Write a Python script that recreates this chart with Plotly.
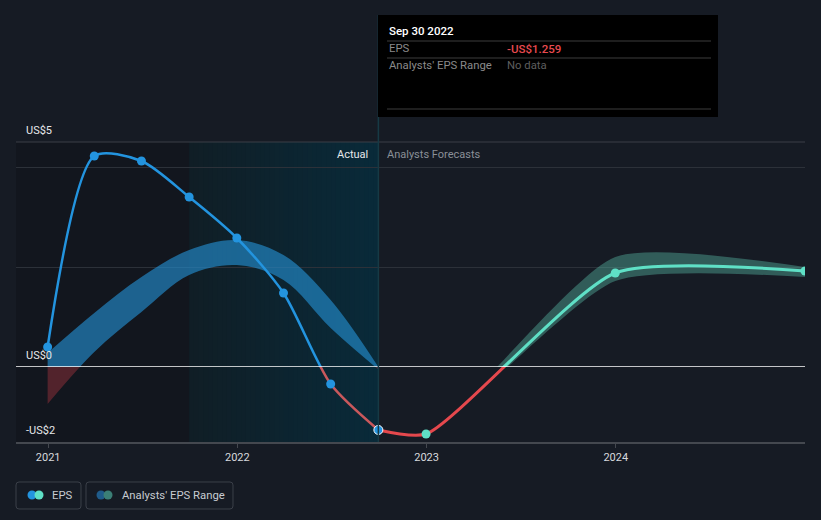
"""
EPS history and analyst forecast chart
"""
import numpy as np
import pandas as pd
import plotly.graph_objects as go

# reported EPS (quarterly, trailing)
actual_dates = ['2020-12-31', '2021-03-31', '2021-06-30', '2021-09-30',
                '2021-12-31', '2022-03-31', '2022-06-30', '2022-09-30']
actual_eps = [0.40, 4.22, 4.12, 3.40, 2.58, 1.48, -0.34, -1.259]

# past analysts' EPS range
past_range_low = [-0.74, 0.30, 1.10, 1.84, 2.04, 1.74, 0.78, -0.05]
past_range_high = [0.28, 1.08, 1.80, 2.34, 2.54, 2.24, 1.34, 0.00]

# forecast EPS
forecast_dates = ['2022-09-30', '2022-12-31', '2023-12-31', '2024-12-31']
forecast_eps = [-1.259, -1.34, 1.88, 1.92]

# forecast analysts' EPS range (starts from the last actual)
fc_range_low = [-1.259, -1.34, 1.72, 1.80]
fc_range_high = [-1.259, -1.34, 2.20, 2.00]

year_ticks = ['2021-01-01', '2022-01-01', '2023-01-01', '2024-01-01']
year_labels = ['2021', '2022', '2023', '2024']
y_labels = ['US$5', 'US$0', '-US$2']
y_label_vals = [4.5, 0, -1.5]

BG = '#161b24'
BLUE = '#2394df'
TEAL = '#5fe0c6'
RED = '#e5484d'
RED_DIM = '#c9585c'
FONT = 'Roboto'
SMOOTH_ACT = 0.75
SMOOTH_FC = 0.6

x_start, x_end = '2020-10-31', '2024-12-31'
highlight_start, highlight_end = '2021-09-30', '2022-09-30'
y_min, y_max = -1.5, 4.5

# plot area in pixels (for legend / tooltip placement)
PL, PR, PT, PB = 16, 805, 142, 442
W, H = 821, 520


def fx(px):
    return (px - PL) / (PR - PL)


def fy(py):
    return (PB - py) / (PB - PT)


def rounded_rect(x0, y0, x1, y1, r=3):
    """rounded rectangle path in paper coords from pixel corners"""
    pts = [
        ('M', x0 + r, y0), ('L', x1 - r, y0), ('Q', x1, y0, x1, y0 + r),
        ('L', x1, y1 - r), ('Q', x1, y1, x1 - r, y1), ('L', x0 + r, y1),
        ('Q', x0, y1, x0, y1 - r), ('L', x0, y0 + r), ('Q', x0, y0, x0 + r, y0),
    ]
    path = ''
    for p in pts:
        coords = p[1:]
        path += p[0] + ' ' + ' '.join(
            f'{fx(coords[i]):.5f},{fy(coords[i + 1]):.5f}' for i in range(0, len(coords), 2)) + ' '
    return path + 'Z'


def band(x, low, high, fillcolor, yaxis, smoothing):
    fig.add_trace(go.Scatter(x=x, y=low, mode='lines', line=dict(width=0, shape='spline', smoothing=smoothing),
                             yaxis=yaxis, hoverinfo='skip', showlegend=False))
    fig.add_trace(go.Scatter(x=x, y=high, mode='lines', line=dict(width=0, shape='spline', smoothing=smoothing),
                             fill='tonexty', fillcolor=fillcolor, yaxis=yaxis,
                             hoverinfo='skip', showlegend=False))


def line(x, y, color, width, yaxis, smoothing):
    fig.add_trace(go.Scatter(x=x, y=y, mode='lines',
                             line=dict(color=color, width=width, shape='spline', smoothing=smoothing),
                             yaxis=yaxis, hoverinfo='skip', showlegend=False))


fig = go.Figure()

# above zero (yaxis2) -> blue / teal
band(actual_dates, past_range_low, past_range_high, 'rgba(35,140,205,0.65)', 'y2', 1.0)
band(forecast_dates, fc_range_low, fc_range_high, 'rgba(90,190,170,0.4)', 'y2', SMOOTH_FC)
line(actual_dates, actual_eps, BLUE, 2.5, 'y2', SMOOTH_ACT)
line(forecast_dates, forecast_eps, TEAL, 3, 'y2', SMOOTH_FC)

# below zero (yaxis) -> red
band(actual_dates, past_range_low, past_range_high, 'rgba(180,55,65,0.4)', 'y', 1.0)
line(actual_dates, actual_eps, RED_DIM, 2.5, 'y', SMOOTH_ACT)
line(forecast_dates, forecast_eps, RED, 3, 'y', SMOOTH_FC)

# markers
act = pd.DataFrame({'x': actual_dates, 'y': actual_eps, 'edge': 'rgba(0,0,0,0)'})
act.loc[act.index[-1], 'edge'] = 'white'
fc = pd.DataFrame({'x': forecast_dates[1:], 'y': forecast_eps[1:], 'edge': 'rgba(0,0,0,0)'})

for df, color in [(act, BLUE), (fc, TEAL)]:
    pos = df[df['y'] >= 0]
    neg = df[df['y'] < 0]
    fig.add_trace(go.Scatter(x=pos['x'], y=pos['y'], mode='markers', yaxis='y2',
                             marker=dict(color=color, size=9, line=dict(color=pos['edge'], width=1)),
                             showlegend=False))
    fig.add_trace(go.Scatter(x=neg['x'], y=neg['y'], mode='markers', yaxis='y', cliponaxis=False,
                             marker=dict(color=color, size=9, line=dict(color=neg['edge'], width=1)),
                             showlegend=False))

shapes = []
# darker past region
shapes.append(dict(type='rect', xref='x', yref='paper', x0=x_start, x1=highlight_start, y0=0, y1=1,
                   fillcolor='#12161e', line_width=0, layer='below'))
# highlight gradient (last year of actuals); each step overlaps the next to hide seams
steps = 40
edges = pd.date_range(highlight_start, highlight_end, periods=steps + 1)
c0, c1 = np.array([16, 30, 38]), np.array([9, 42, 57])
for i in range(steps):
    c = (c0 + (c1 - c0) * i / (steps - 1)).round().astype(int)
    shapes.append(dict(type='rect', xref='x', yref='paper', x0=edges[i], x1=edges[min(i + 2, steps)],
                       y0=0, y1=1, fillcolor=f'rgb({c[0]},{c[1]},{c[2]})', line_width=0, layer='below'))
# top line and zero line
shapes.append(dict(type='line', xref='paper', yref='paper', x0=0, x1=1, y0=1, y1=1,
                   line=dict(color='#3a3f47', width=1)))
shapes.append(dict(type='line', xref='paper', yref='y2', x0=0, x1=1, y0=0, y1=0,
                   line=dict(color='white', width=1.6), layer='above'))
# vertical marker at the last actual
shapes.append(dict(type='line', xref='x', yref='paper', x0=highlight_end, x1=highlight_end,
                   y0=0, y1=fy(15), line=dict(color='#163a45', width=1.5)))
# tooltip box
shapes.append(dict(type='rect', xref='paper', yref='paper', x0=fx(378), x1=fx(718), y0=fy(117), y1=fy(15),
                   fillcolor='black', line_width=0))
for py in [41, 58, 109]:
    shapes.append(dict(type='line', xref='paper', yref='paper', x0=fx(387), x1=fx(711), y0=fy(py), y1=fy(py),
                       line=dict(color='#3d3d3d', width=1)))
# legend boxes and icons
for x0, x1 in [(16, 81), (86, 233)]:
    shapes.append(dict(type='path', xref='paper', yref='paper', path=rounded_rect(x0, 482, x1, 509),
                       line=dict(color='#3b4049', width=1), fillcolor='rgba(0,0,0,0)'))
for cx, color in [(32, BLUE), (39, TEAL), (101, '#1f5b8a'), (108, '#3b7f76')]:
    shapes.append(dict(type='circle', xref='paper', yref='paper', x0=fx(cx - 4.5), x1=fx(cx + 4.5),
                       y0=fy(495 + 4.5), y1=fy(495 - 4.5), fillcolor=color, line_width=0))

annotations = []


def text(x, y, s, color='#c7cbd1', size=11.3, xanchor='left', xref='paper', yref='paper', xshift=0, yshift=0,
         yanchor='middle', weight='normal'):
    annotations.append(dict(x=x, y=y, text=s, xref=xref, yref=yref, xanchor=xanchor, yanchor=yanchor,
                            showarrow=False, xshift=xshift, yshift=yshift,
                            font=dict(family=FONT, size=size, color=color, weight=weight)))


# y labels
for lab, val in zip(y_labels, y_label_vals):
    text(fx(24), val, lab, color='#e6e8eb', size=11, yref='y2' if val >= 0 else 'y', yanchor='bottom', yshift=3)
# actual / forecast labels
text(highlight_end, fy(154), 'Actual', color='#e6e8eb', size=11, xanchor='right', xref='x', xshift=-8)
text(highlight_end, fy(154), 'Analysts Forecasts', color='#8a8f97', size=11, xanchor='left', xref='x', xshift=7)
# tooltip text
text(fx(387), fy(31), 'Sep 30 2022', color='white', size=11.5, weight=500)
text(fx(387), fy(49), 'EPS', color='#8a8a8a')
text(fx(505), fy(49), '-US$1.259', color='#e84a4f', size=11.5, weight=500)
text(fx(387), fy(66), "Analysts' EPS Range", color='#8a8a8a')
text(fx(505), fy(66), 'No data', color='#5e5e5e')
# legend text
text(fx(50), fy(495), 'EPS')
text(fx(120), fy(495), "Analysts' EPS Range")

fig.update_layout(
    width=W, height=H,
    margin=dict(l=PL, r=W - PR, t=PT, b=H - PB),
    paper_bgcolor=BG, plot_bgcolor='rgba(0,0,0,0)',
    showlegend=False,
    xaxis=dict(type='date', range=[x_start, x_end], tickvals=year_ticks, ticktext=year_labels,
               showgrid=False, zeroline=False, showline=True, linecolor='#44484f', linewidth=1.5,
               ticks='outside', ticklen=4, tickcolor='#44484f',
               tickfont=dict(family=FONT, size=11, color='#d6d9dd'), anchor='y'),
    yaxis=dict(domain=[0, -y_min / (y_max - y_min)], range=[y_min, 0], showgrid=False, zeroline=False,
               showticklabels=False, fixedrange=True),
    yaxis2=dict(domain=[-y_min / (y_max - y_min), 1], range=[0, y_max], tickvals=[2, 4], showgrid=True,
                gridcolor='#2c3139', gridwidth=1, zeroline=False, showticklabels=False, anchor='x'),
    shapes=shapes,
    annotations=annotations,
    hovermode=False,
)

fig.write_html("out.html", config={'displayModeBar': False},
               post_script="document.body.style.margin='0';"
                           "document.body.style.background='%s';" % BG)
